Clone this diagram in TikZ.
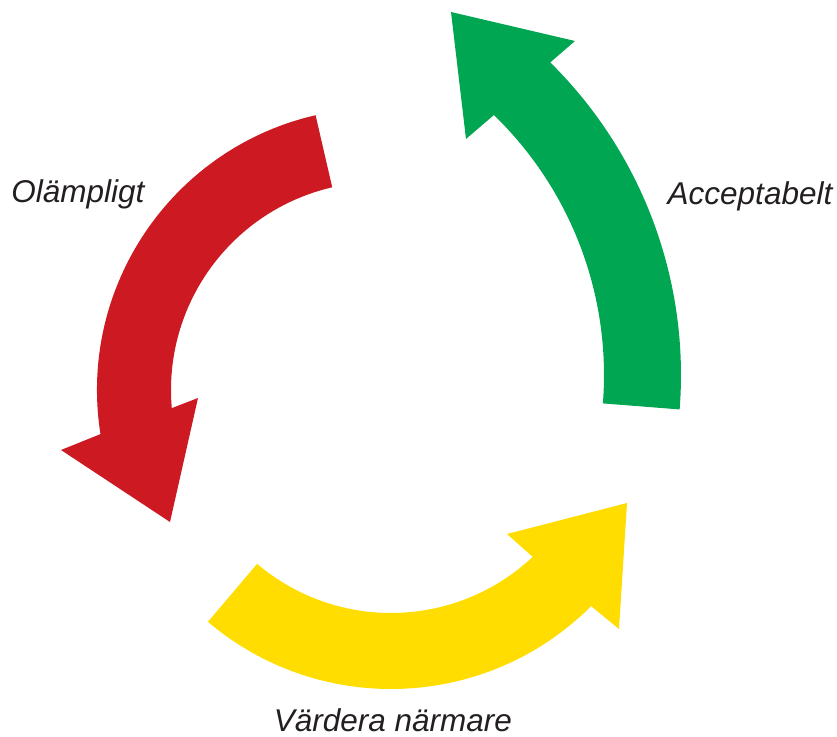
\documentclass[tikz,border=0pt]{standalone}
\usepackage{fontspec}
\setmainfont{Liberation Sans}
\definecolor{cyclered}{HTML}{CD1A22}
\definecolor{cyclegreen}{HTML}{00A651}
\definecolor{cycleyellow}{HTML}{FFDD00}
\definecolor{textgray}{HTML}{231F20}
\tikzset
{
    band/.style      = {draw=none},
    steplabel/.style = {font=\fontsize{31.5}{36}\selectfont\itshape, text=textgray, inner sep=0pt, anchor=base}
}

\begin{document}
\begin{tikzpicture}[x=1pt,y=1pt]
\useasboundingbox (0,0) rectangle (837,736);
\coordinate (rc) at (379,346);
\coordinate (gc) at (242,361);
\coordinate (yc) at (391,330);
\fill [band, cyclered] ([shift={(rc)}]103:282) arc [start angle=103, end angle=189, radius=282] -- (61,286) -- (170,214) -- (198,338) -- ([shift={(rc)}]185:208) arc [start angle=185, end angle=103, radius=208] -- cycle;
\fill [band, cyclegreen] ([shift={(gc)}]-4.5:439) arc [start angle=-4.5, end angle=45.4, radius=439] -- (575,695) -- (451,724) -- (466,597) -- ([shift={(gc)}]45.9:362) arc [start angle=45.9, end angle=-4.5, radius=362] -- cycle;
\fill [band, cycleyellow] ([shift={(yc)}]229.7:283) arc [start angle=229.7, end angle=315, radius=283] -- (619,107) -- (627,233) -- (507,202) -- ([shift={(yc)}]313.2:207) arc [start angle=313.2, end angle=229.7, radius=207] -- cycle;
\node [steplabel] (olampligt) at (78,533) {Olämpligt};
\node [steplabel] (acceptabelt) at (750,531) {Acceptabelt};
\node [steplabel] (vardera) at (393,5) {Värdera närmare};
\end{tikzpicture}
\end{document}
